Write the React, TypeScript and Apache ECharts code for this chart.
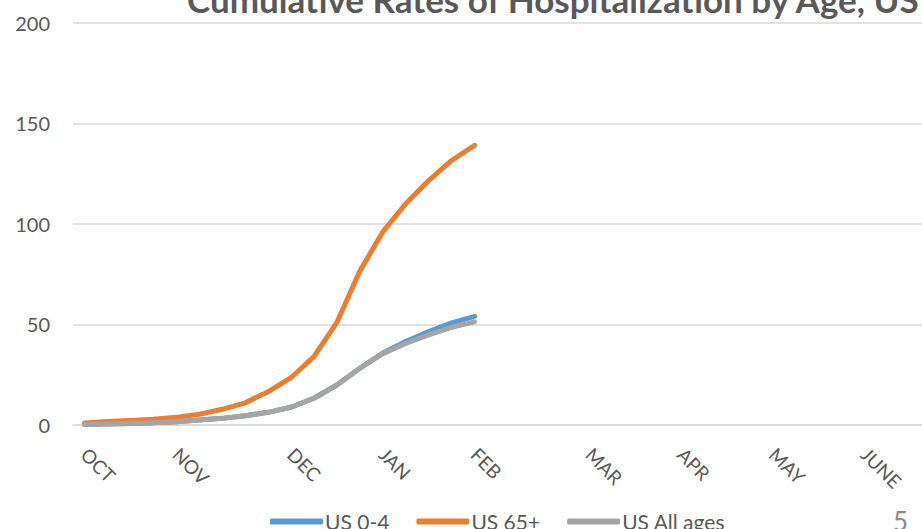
import React, { useEffect, useRef } from "react";
import * as echarts from "echarts";

// Weekly categories; month name on the first week of each month
const weeks: string[] = [
  "OCT", "", "", "",
  "NOV", "", "", "", "",
  "DEC", "", "", "",
  "JAN", "", "", "",
  "FEB", "", "", "", "",
  "MAR", "", "", "",
  "APR", "", "", "",
  "MAY", "", "", "",
  "JUNE", "", "",
];

const us04: number[] = [0.3, 0.5, 0.8, 1.1, 1.6, 2.5, 3.3, 4.6, 6.3, 8.8, 13.3, 19.9, 28.2, 35.8, 41.5, 46.5, 50.8, 54.0];
const us65: number[] = [1.0, 1.7, 2.3, 2.9, 3.8, 5.3, 7.8, 11.0, 16.5, 23.5, 34.0, 51.0, 76.5, 96.0, 110.0, 121.5, 131.5, 139.0];
const usAll: number[] = [0.3, 0.5, 0.8, 1.1, 1.6, 2.5, 3.3, 4.6, 6.3, 8.8, 13.3, 19.9, 28.2, 35.5, 40.5, 44.8, 48.5, 51.3];

const seriesNames = ["US 0-4", "US 65+", "US All ages"];
const seriesColors = ["#5B9BD5", "#ED7D31", "#A5A5A5"];
const titleText = "Cumulative Rates of Hospitalization by Age, US";
const yTicks = { min: 0, max: 200, interval: 50 };

const FONT = "Lato, 'Open Sans', sans-serif";

export default function App() {
  const ref = useRef<HTMLDivElement>(null);
  useEffect(() => {
    if (!ref.current) return;
    const chart = echarts.init(ref.current, undefined, { renderer: "svg" });
    const values = [us04, us65, usAll];
    chart.setOption({
      animation: false,
      backgroundColor: "#ffffff",
      textStyle: { fontFamily: FONT },
      grid: { left: 73, top: 22.7, width: 37 * 23.2, height: 402.3, containLabel: false },
      xAxis: {
        type: "category",
        data: weeks,
        boundaryGap: true,
        axisLine: { show: true, lineStyle: { color: "#D9D9D9", width: 1.5 } },
        axisTick: { show: false },
        axisLabel: {
          interval: 0,
          rotate: -45,
          margin: 26,
          fontSize: 19,
          color: "#595959",
          fontFamily: FONT,
        },
        splitLine: { show: false },
      },
      yAxis: {
        type: "value",
        min: yTicks.min,
        max: yTicks.max,
        interval: yTicks.interval,
        axisLine: { show: false },
        axisTick: { show: false },
        axisLabel: { fontSize: 20, color: "#595959", margin: 23, fontFamily: FONT },
        splitLine: { show: true, lineStyle: { color: "#D9D9D9", width: 1.5 } },
      },
      legend: {
        left: 265,
        top: 506,
        itemWidth: 53,
        itemHeight: 6,
        itemGap: 27,
        icon: "roundRect",
        textStyle: { fontSize: 21, color: "#595959", fontFamily: FONT, padding: [0, 0, 0, -3] },
        data: seriesNames,
      },
      graphic: [
        {
          type: "text",
          left: 187,
          top: -19,
          style: {
            text: titleText,
            fontSize: 35,
            fontWeight: "bold",
            fill: "#595959",
            fontFamily: FONT,
          },
        },
        {
          type: "text",
          left: 893,
          top: 508,
          style: { text: "5", fontSize: 26, fill: "#8C8C8C", fontFamily: FONT },
        },
      ],
      series: values.map((d, i) => ({
        name: seriesNames[i],
        type: "line",
        data: d,
        showSymbol: false,
        symbol: "none",
        smooth: false,
        color: seriesColors[i],
        lineStyle: { width: 5, color: seriesColors[i], cap: "round", join: "round" },
      })),
    });
    return () => chart.dispose();
  }, []);
  return (
    <div
      ref={ref}
      style={{ position: "fixed", left: 0, top: 0, width: 922, height: 529 }}
    />
  );
}
